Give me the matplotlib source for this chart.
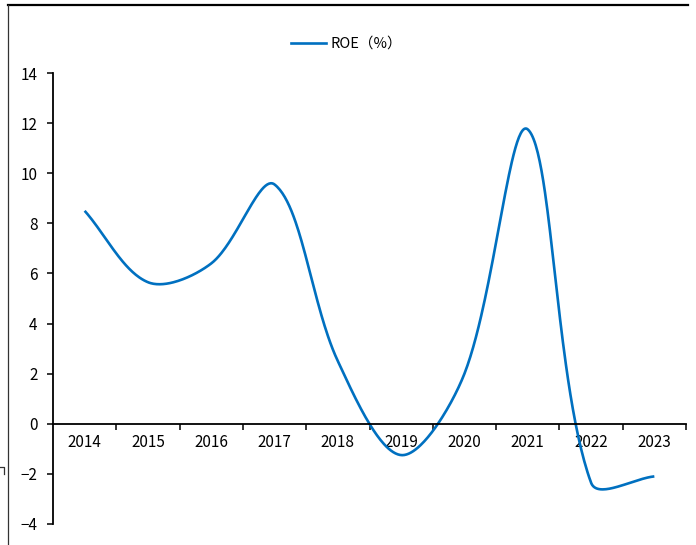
import numpy as np
import matplotlib
matplotlib.use("Agg")
import matplotlib.pyplot as plt
from matplotlib.lines import Line2D

plt.rcParams['font.family'] = ['Noto Sans CJK SC', 'DejaVu Sans']

years = ['2014', '2015', '2016', '2017', '2018', '2019', '2020', '2021', '2022', '2023']
roe = [8.5, 5.65, 6.4, 9.55, 2.5, -1.25, 2.0, 11.75, -2.35, -2.1]
y_ticks = [-4, -2, 0, 2, 4, 6, 8, 10, 12, 14]
series_name = 'ROE（%）'

W, H = 696, 545
fig = plt.figure(figsize=(W / 100, H / 100), dpi=100)
ax = fig.add_axes([53 / W, 1 - 524 / H, (686 - 53) / W, (524 - 73) / H])

ax.set_xlim(-0.5, len(years) - 0.5)
ax.set_ylim(-4, 14)

# smoothed line: cubic Bezier segments built in display space,
# control arms weighted by neighbouring segment lengths
x = np.arange(len(years), dtype=float)
pts = ax.transData.transform(np.column_stack([x, roe]))
n = len(pts)
curve = []
for i in range(n - 1):
    p0 = pts[i - 1] if i > 0 else pts[i]
    p1 = pts[i]
    p2 = pts[i + 1]
    p3 = pts[i + 2] if i + 2 < n else pts[i + 1]
    d01 = np.linalg.norm(p1 - p0)
    d12 = np.linalg.norm(p2 - p1)
    d23 = np.linalg.norm(p3 - p2)
    c1 = p1 + (p2 - p0) * d12 / (d01 + d12) / 3.0
    c2 = p2 - (p3 - p1) * d12 / (d12 + d23) / 3.0
    t = np.linspace(0, 1, 60)[:, None]
    seg = ((1 - t) ** 3) * p1 + 3 * ((1 - t) ** 2) * t * c1 + 3 * (1 - t) * t ** 2 * c2 + t ** 3 * p2
    curve.append(seg if i == 0 else seg[1:])
curve = np.vstack(curve)
curve_data = ax.transData.inverted().transform(curve)
ax.plot(curve_data[:, 0], curve_data[:, 1], color='#0070C0', lw=1.9,
        solid_capstyle='butt', solid_joinstyle='round')

# axes styling
for side in ['top', 'right']:
    ax.spines[side].set_visible(False)
ax.spines['bottom'].set_position(('data', 0))
ax.spines['left'].set_color('black')
ax.spines['bottom'].set_color('black')
ax.spines['left'].set_linewidth(1.3)
ax.spines['bottom'].set_linewidth(1.3)

ax.set_yticks(y_ticks)
ax.set_yticklabels([f'{v:d}'.replace('-', '−') for v in y_ticks])
ax.tick_params(axis='y', direction='out', length=4, width=1.1, pad=7,
               labelsize=11, colors='black')

ax.set_xticks(np.arange(len(years)) + 0.5)
ax.set_xticklabels([])
ax.set_xticks(x, minor=True)
ax.set_xticklabels(years, minor=True)
ax.tick_params(axis='x', which='major', direction='out', length=4, width=1.1)
ax.tick_params(axis='x', which='minor', length=0, pad=7.5, labelsize=11)

handle = Line2D([], [], color='#0070C0', lw=1.9)
fig.legend([handle], [series_name], loc='center', bbox_to_anchor=(0.498, 1 - 44 / H),
           frameon=False, fontsize=10.5, handlelength=2.4, handletextpad=0.3)

# outer frame edges
fig.add_artist(Line2D([8 / W, 688 / W], [1 - 5 / H, 1 - 5 / H], color='black', lw=1.6))
fig.add_artist(Line2D([8 / W, 8 / W], [1 - 5 / H, 0], color='#333333', lw=0.9))
fig.add_artist(Line2D([0, 4 / W, 4 / W], [1 - 467 / H, 1 - 467 / H, 1 - 474 / H],
                      color='#333333', lw=0.9))

fig.savefig('out.png', dpi=100)
